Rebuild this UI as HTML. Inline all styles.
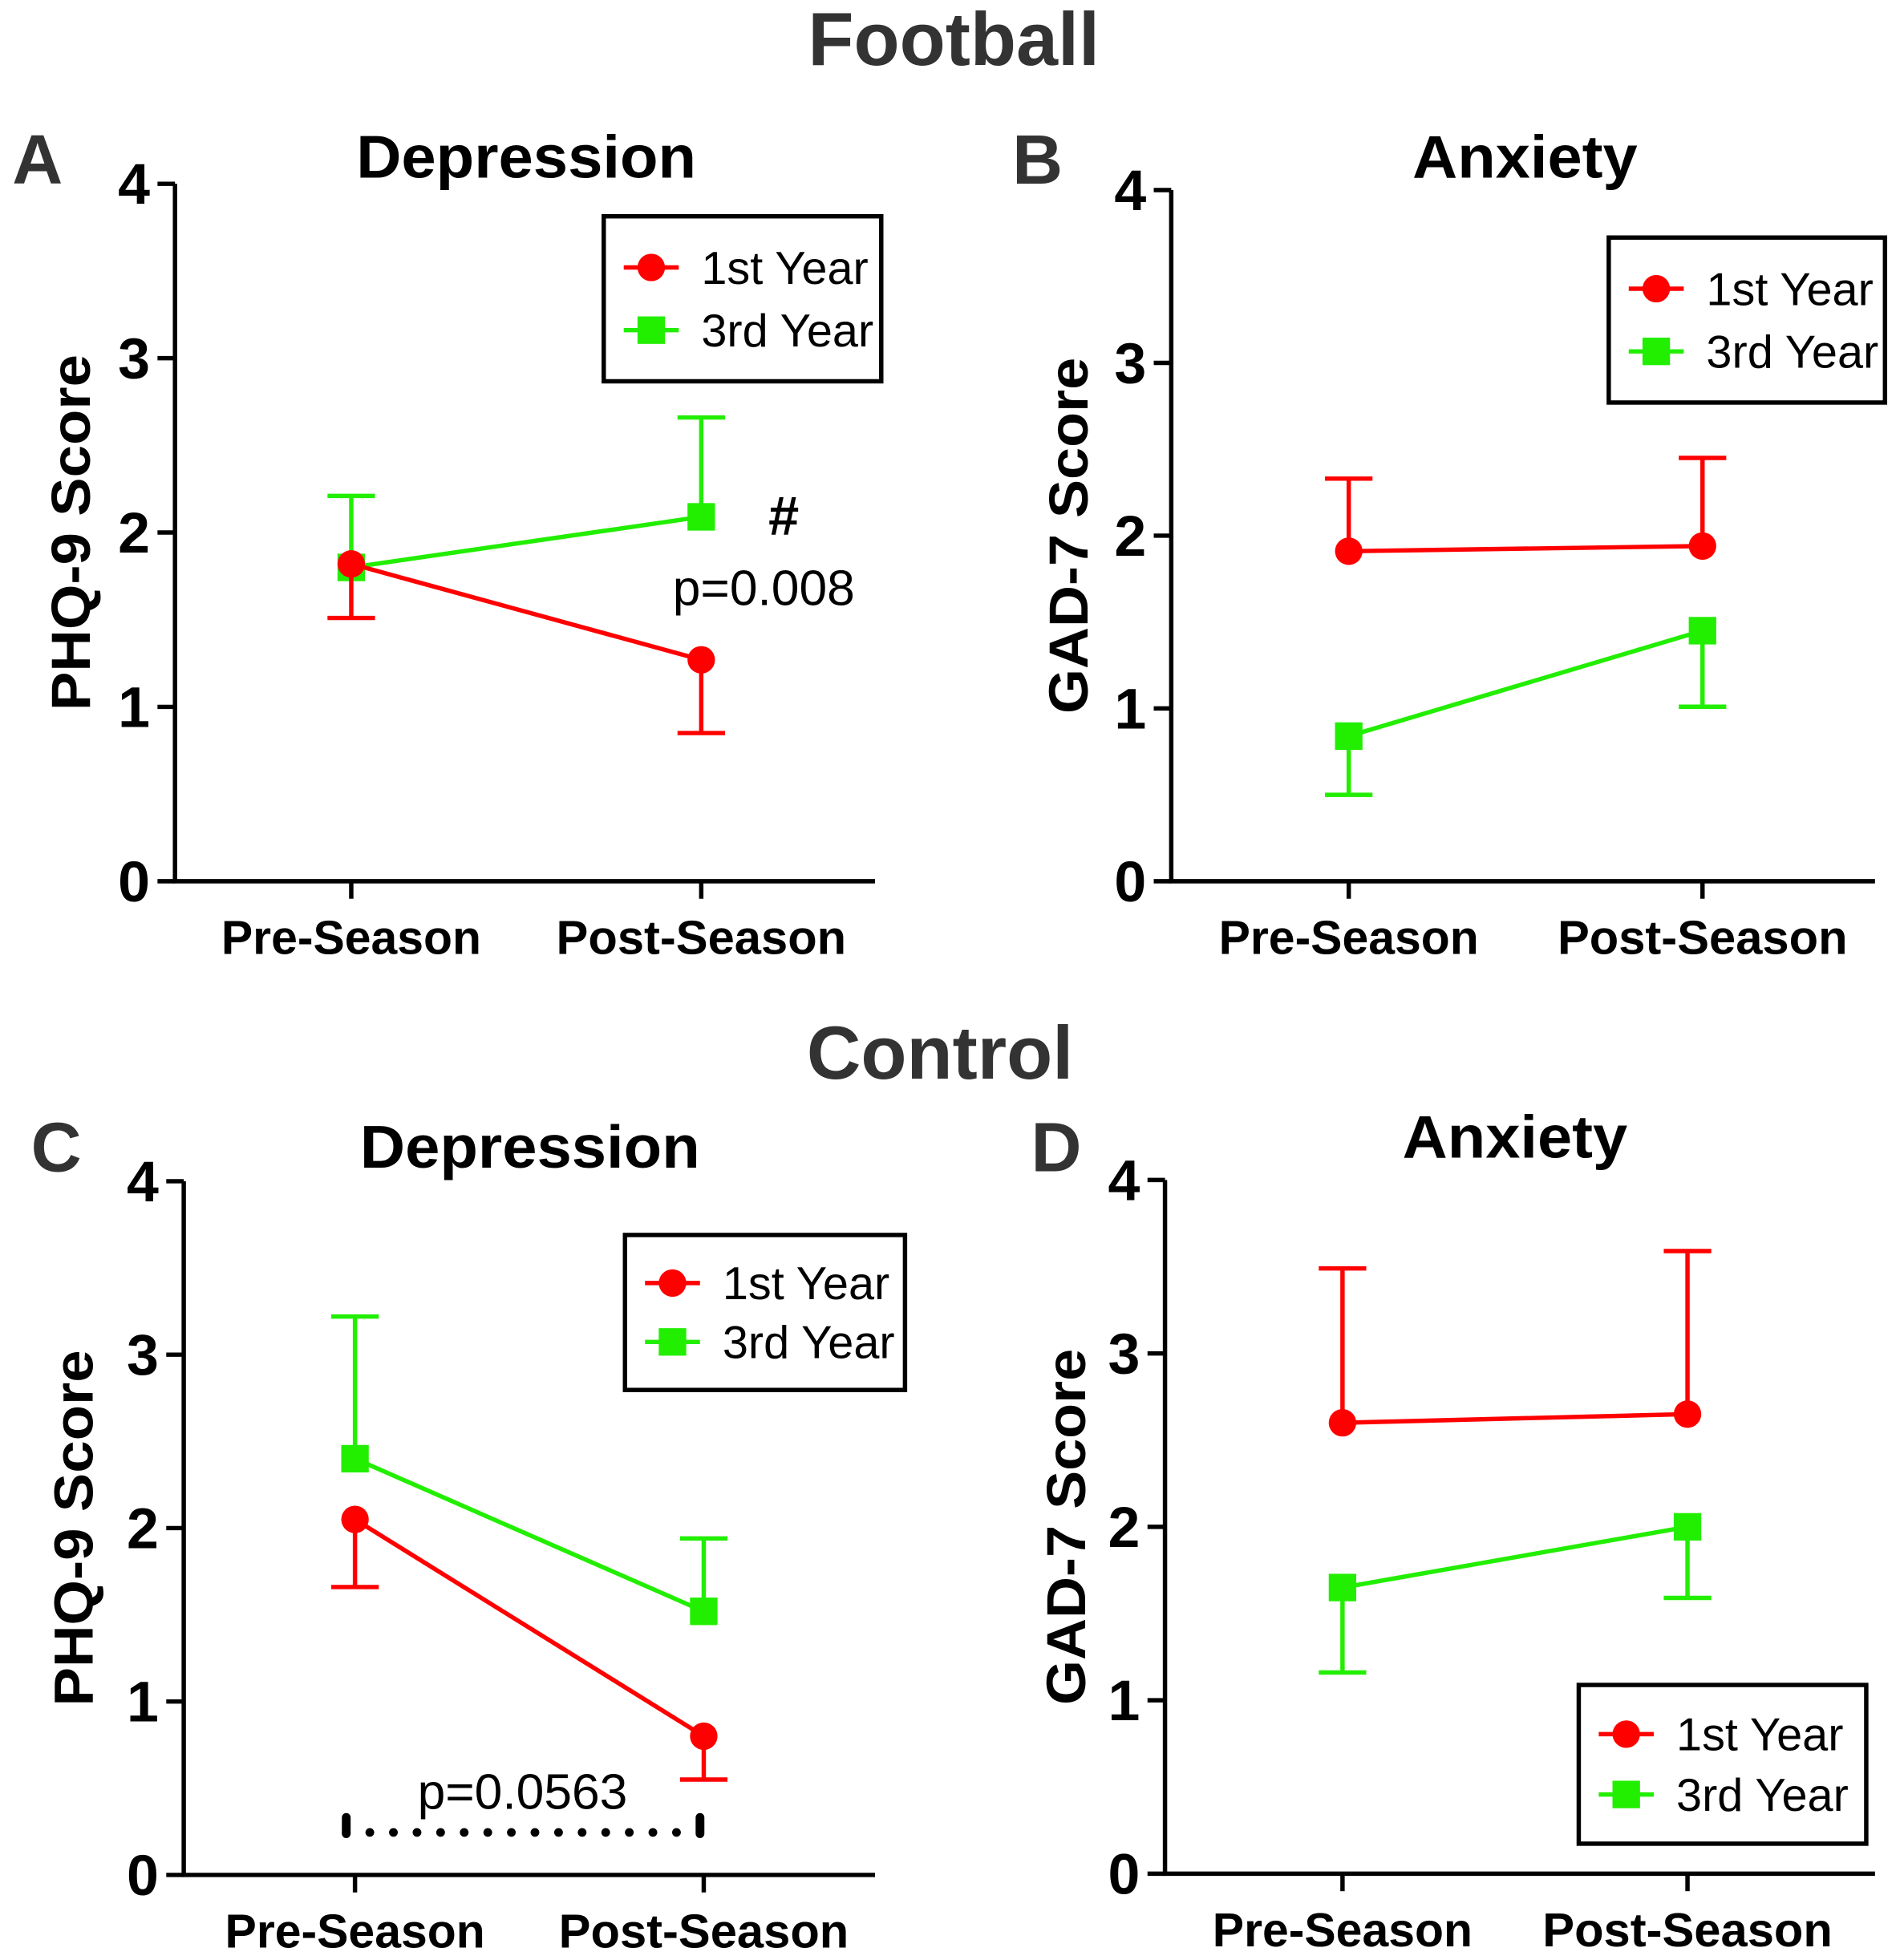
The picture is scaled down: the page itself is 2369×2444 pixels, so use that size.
<!DOCTYPE html>
<html><head><meta charset="utf-8">
<style>
html,body{margin:0;padding:0;background:#fff;}
svg{display:block;font-family:"Liberation Sans",Arial,sans-serif;}
</style></head>
<body>
<svg id="fig" width="2369" height="2444" viewBox="0 0 1520 1568" xmlns="http://www.w3.org/2000/svg">
<text x="763" y="52" font-size="60" font-weight="bold" fill="#333" text-anchor="middle">Football</text>
<text x="752" y="863" font-size="60" font-weight="bold" fill="#333" text-anchor="middle">Control</text>
</svg>
<script>
const categories = ["Pre-Season","Post-Season"];
const yTicks = [0,1,2,3,4];
const seriesNames = ["1st Year","3rd Year"];
const aFirst = [1.82,1.27], aFirstErr = [-0.31,-0.42];
const aThird = [1.80,2.09], aThirdErr = [0.41,0.57];
const bFirst = [1.91,1.94], bFirstErr = [0.42,0.51];
const bThird = [0.84,1.45], bThirdErr = [-0.34,-0.44];
const cFirst = [2.05,0.80], cFirstErr = [-0.39,-0.25];
const cThird = [2.40,1.52], cThirdErr = [0.82,0.42];
const dFirst = [2.60,2.65], dFirstErr = [0.89,0.94];
const dThird = [1.65,2.00], dThirdErr = [-0.49,-0.41];

const NS="http://www.w3.org/2000/svg";
const svg=document.getElementById('fig');
function mk(tag,attrs,parent){const e=document.createElementNS(NS,tag);for(const k in attrs)e.setAttribute(k,attrs[k]);(parent||svg).appendChild(e);return e;}
function txt(s,attrs,parent){const e=mk('text',attrs,parent);e.textContent=s;return e;}

const panels=[
 {id:'a',letter:'A',lx:30,ly:147,title:'Depression',tx:421,ty:142,ylab:'PHQ-9 Score',ylx:72,
  x0:140,x1:700,yTop:147,yBot:705,xs:[281,561],s1:aFirst,e1:aFirstErr,s3:aThird,e3:aThirdErr,
  leg:[483,173,222,132]},
 {id:'b',letter:'B',lx:830,ly:147,title:'Anxiety',tx:1220,ty:142,ylab:'GAD-7 Score',ylx:870,
  x0:937,x1:1500,yTop:152,yBot:705,xs:[1079,1362],s1:bFirst,e1:bFirstErr,s3:bThird,e3:bThirdErr,
  leg:[1287,190,221,132]},
 {id:'c',letter:'C',lx:45,ly:937,title:'Depression',tx:424,ty:934,ylab:'PHQ-9 Score',ylx:74,
  x0:147,x1:700,yTop:945,yBot:1500,xs:[284,563],s1:cFirst,e1:cFirstErr,s3:cThird,e3:cThirdErr,
  leg:[500,988,224,124]},
 {id:'d',letter:'D',lx:845,ly:937,title:'Anxiety',tx:1212,ty:926,ylab:'GAD-7 Score',ylx:868,
  x0:932,x1:1500,yTop:944,yBot:1499,xs:[1074,1350],s1:dFirst,e1:dFirstErr,s3:dThird,e3:dThirdErr,
  leg:[1263,1348,230,127]}
];
const RED='#ff0000', GREEN='#22ee00';
panels.forEach(p=>{
  const g=mk('g',{});
  
  
  const y=v=>p.yBot-(v/4)*(p.yBot-p.yTop);
  const pl=txt(p.letter,{x:p.lx,y:p.ly,'font-size':56,'font-weight':'bold',fill:'#333','text-anchor':'middle'},g);
  
  
  const t=txt(p.title,{x:p.tx,y:p.ty,'font-size':48,'font-weight':'bold','text-anchor':'middle',textLength:p.title==='Depression'?272:180,lengthAdjust:'spacingAndGlyphs'},g);
  
  
  const yl=txt(p.ylab,{x:0,y:0,'font-size':44,'font-weight':'bold','text-anchor':'middle',textLength:285,lengthAdjust:'spacingAndGlyphs',transform:`translate(${p.ylx},${(p.yTop+p.yBot)/2}) rotate(-90)`},g);
  
  
  const ax=mk('path',{d:`M${p.x0},${p.yTop} V${p.yBot} H${p.x1}`,stroke:'#000','stroke-width':3.5,fill:'none'},g);
  
  
  yTicks.forEach(v=>{
    mk('line',{x1:p.x0-14,x2:p.x0,y1:y(v),y2:y(v),stroke:'#000','stroke-width':3.5},g);
    const tl=txt(String(v),{x:p.x0-20,y:y(v)+16,'font-size':46,'font-weight':'bold','text-anchor':'end'},g);
    
    
  });
  categories.forEach((c,i)=>{
    mk('line',{x1:p.xs[i],x2:p.xs[i],y1:p.yBot,y2:p.yBot+14,stroke:'#000','stroke-width':3.5},g);
    const xl=txt(c,{x:p.xs[i],y:p.yBot+58,'font-size':38,'font-weight':'bold','text-anchor':'middle',textLength:i===0?208:232,lengthAdjust:'spacingAndGlyphs'},g);
    
    
  });
  [[p.s3,p.e3,GREEN,'square'],[p.s1,p.e1,RED,'circle']].forEach(([vals,errs,col,shape])=>{
    const line=mk('polyline',{points:vals.map((v,i)=>p.xs[i]+','+y(v)).join(' '),stroke:col,'stroke-width':3.5,fill:'none'},g);
    
    
    vals.forEach((v,i)=>{
      const x=p.xs[i], ye=y(v+errs[i]);
      mk('line',{x1:x,x2:x,y1:y(v),y2:ye,stroke:col,'stroke-width':3.5},g);
      mk('line',{x1:x-19,x2:x+19,y1:ye,y2:ye,stroke:col,'stroke-width':3.5},g);
      let m;
      if(shape==='circle') m=mk('circle',{cx:x,cy:y(v),r:11,fill:col},g);
      else m=mk('rect',{x:x-11,y:y(v)-11,width:22,height:22,fill:col},g);
      
      
    });
  });
  const [lx,ly,lw,lh]=p.leg;
  const lg=mk('g',{},g);
  
  
  mk('rect',{x:lx,y:ly,width:lw,height:lh,fill:'#fff',stroke:'#000','stroke-width':3.5},lg);
  const rowY=[ly+lh*0.31,ly+lh*0.69];
  seriesNames.forEach((n,i)=>{
    const col=i===0?RED:GREEN;
    mk('line',{x1:lx+16,x2:lx+60,y1:rowY[i],y2:rowY[i],stroke:col,'stroke-width':3.5},lg);
    if(i===0) mk('circle',{cx:lx+38,cy:rowY[i],r:11,fill:col},lg);
    else mk('rect',{x:lx+27,y:rowY[i]-11,width:22,height:22,fill:col},lg);
    const le=txt(n,{x:lx+78,y:rowY[i]+13,'font-size':37},lg);
    
    
  });
});
// annotations
const h=txt('#',{x:627,y:428,'font-size':44,'font-weight':'bold','text-anchor':'middle'});


const p1=txt('p=0.008',{x:611,y:484,'font-size':40,'text-anchor':'middle'});


const p2=txt('p=0.0563',{x:418,y:1447,'font-size':40,'text-anchor':'middle'});


const br=mk('g',{});


mk('line',{x1:277,x2:277,y1:1454,y2:1467,stroke:'#000','stroke-width':7,'stroke-linecap':'round'},br);
mk('line',{x1:560,x2:560,y1:1454,y2:1467,stroke:'#000','stroke-width':7,'stroke-linecap':'round'},br);
mk('line',{x1:277,x2:560,y1:1466,y2:1466,stroke:'#000','stroke-width':7,'stroke-linecap':'round','stroke-dasharray':'0 18.87'},br);
</script>
</body></html>
